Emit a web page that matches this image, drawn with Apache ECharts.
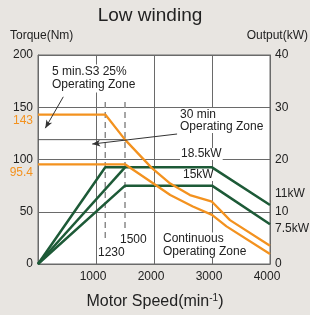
<!DOCTYPE html>
<html>
<head>
<meta charset="utf-8">
<script src="https://cdn.jsdelivr.net/npm/echarts@6/dist/echarts.min.js"></script>
<style>
html,body{margin:0;padding:0;background:#e8e5e1;}
#c{width:310px;height:315px;}
</style>
</head>
<body>
<div id="c"></div>
<script>
// ---- data ----
var xTicks = [0, 1000, 2000, 3000, 4000];
var torqueTicks = [0, 50, 100, 150, 200];
var outputTicks = [0, 10, 20, 30, 40];

// Torque curves (Nm) vs speed (min^-1)
var s3TorqueSpeed  = [0, 1160, 1500, 1960, 2280, 2620, 3000, 3310, 4000];
var s3Torque       = [143, 143, 119, 92, 77, 66, 59.6, 42, 17.5];
var contTorqueSpeed = [0, 1500, 1990, 2280, 2670, 3000, 3250, 4000];
var contTorque      = [95.4, 95.4, 77, 66, 55, 47, 36, 9.5];

// Output curves (kW) vs speed
var out185Speed = [0, 1160, 3000, 4000];
var out185      = [0, 18.5, 18.5, 11.3];
var out185bSpeed = [0, 1500];
var out185b      = [0, 18.5];
var out15Speed  = [0, 1500, 3000, 4000];
var out15       = [0, 15, 15, 7.6];

// reference marks
var refLineSpeed = [0, 1500];
var refLineTorque = [119, 119];
var dash1230 = [[1160, 155], [1160, 21]];
var dash1500 = [[1500, 155], [1500, 32]];
var arrow5min = [[436, 160], [126, 130]];
var arrow30min = [[2398, 124.4], [935, 114.8]];

function zip(a, b) { return a.map(function (v, i) { return [v, b[i]]; }); }

var FONT = '"Liberation Sans", Arial, sans-serif';
var ORANGE = '#f3921f';
var GREEN = '#1d5a37';
var GRID = '#6a6a6a';
var TXT = '#222';

var chart = echarts.init(document.getElementById('c'), null, {renderer: 'canvas'});

function txt(x, y, text, opts) {
  opts = opts || {};
  return {
    type: 'text', x: x, y: y, z: opts.z != null ? opts.z : 100, silent: true,
    style: Object.assign({
      text: text, fill: TXT, font: (opts.size || 12) + 'px ' + FONT,
      align: opts.align || 'left', verticalAlign: opts.va || 'middle',
      lineHeight: opts.lh || 12
    }, opts.extra || {})
  };
}

var option = {
  backgroundColor: '#e8e5e1',
  animation: false,
  textStyle: {fontFamily: FONT},
  grid: {left: 38, right: 40, top: 55, bottom: 51, show: true, backgroundColor: '#ffffff', borderColor: GRID, borderWidth: 1},
  xAxis: {
    type: 'value', min: xTicks[0], max: xTicks[xTicks.length - 1], interval: 1000,
    axisLine: {show: true, lineStyle: {color: GRID}},
    axisTick: {show: false},
    splitLine: {show: true, lineStyle: {color: GRID, width: 1}},
    axisLabel: {color: TXT, fontSize: 12, margin: 7, showMinLabel: false, padding: [0, 6, 0, 0],
      formatter: function (v) { return xTicks.indexOf(v) >= 0 ? String(v) : ''; }}
  },
  yAxis: [{
    type: 'value', min: 0, max: 200, interval: 50, position: 'left',
    axisLine: {show: true, lineStyle: {color: GRID}},
    axisTick: {show: false},
    splitLine: {show: true, lineStyle: {color: GRID, width: 1}},
    axisLabel: {color: TXT, fontSize: 12, margin: 5,
      formatter: function (v) { return torqueTicks.indexOf(v) >= 0 ? String(v) : ''; }}
  }, {
    type: 'value', min: 0, max: 40, interval: 10, position: 'right',
    axisLine: {show: true, lineStyle: {color: GRID}},
    axisTick: {show: false},
    splitLine: {show: false},
    axisLabel: {color: TXT, fontSize: 12, margin: 5,
      formatter: function (v) { return outputTicks.indexOf(v) >= 0 ? String(v) : ''; }}
  }],
  series: [
    {type: 'line', name: 'ref', data: zip(refLineSpeed, refLineTorque), symbol: 'none', silent: true,
      lineStyle: {color: '#555', width: 1}, z: 2},
    {type: 'line', name: 'd1230', data: dash1230, symbol: 'none', silent: true,
      lineStyle: {color: '#8a8a8a', width: 1.5, type: [6, 4]}, z: 2},
    {type: 'line', name: 'd1500', data: dash1500, symbol: 'none', silent: true,
      lineStyle: {color: '#8a8a8a', width: 1.5, type: [6, 4]}, z: 2,
      markLine: {silent: true, symbol: ['none', 'arrow'], symbolSize: [5, 8], label: {show: false},
        lineStyle: {color: '#333', width: 1, type: 'solid'},
        data: [
          [{coord: arrow5min[0]}, {coord: arrow5min[1]}],
          [{coord: arrow30min[0]}, {coord: arrow30min[1]}]
        ]}},
    {type: 'line', name: '18.5kW', yAxisIndex: 1, data: zip(out185Speed, out185), symbol: 'none',
      lineStyle: {color: GREEN, width: 2.5}, z: 3},
    {type: 'line', name: '18.5kW b', yAxisIndex: 1, data: zip(out185bSpeed, out185b), symbol: 'none',
      lineStyle: {color: GREEN, width: 2.5}, z: 3},
    {type: 'line', name: '15kW', yAxisIndex: 1, data: zip(out15Speed, out15), symbol: 'none',
      lineStyle: {color: GREEN, width: 2.5}, z: 3},
    {type: 'line', name: 'S3 torque', data: zip(s3TorqueSpeed, s3Torque), symbol: 'none',
      lineStyle: {color: ORANGE, width: 2.3}, z: 4},
    {type: 'line', name: 'Cont torque', data: zip(contTorqueSpeed, contTorque), symbol: 'none',
      lineStyle: {color: ORANGE, width: 2.3}, z: 4}
  ],
  graphic: [
    txt(150, 16, 'Low winding', {size: 19, align: 'center'}),
    txt(10, 36, 'Torque(Nm)', {size: 12}),
    txt(308, 36, 'Output(kW)', {size: 12, align: 'right'}),
    txt(33, 121, '143', {align: 'right', extra: {fill: ORANGE}}),
    txt(33, 173, '95.4', {align: 'right', extra: {fill: ORANGE}}),
    txt(275, 194, '11kW'),
    txt(275, 229, '7.5kW'),
    txt(51, 64.5, '5 min.S3 25%\nOperating Zone', {va: 'top', lh: 13, z: 1,
      extra: {backgroundColor: '#fff', padding: [1, 1, 1, 1]}}),
    txt(180, 108, '30 min\nOperating Zone', {va: 'top', lh: 12.5, z: 1,
      extra: {backgroundColor: '#fff', padding: [0, 1, 0, 0]}}),
    txt(180, 154, '18.5kW', {z: 1, extra: {backgroundColor: '#fff', padding: [0, 1, 0, 1]}}),
    txt(182, 175, '15kW', {z: 1, extra: {backgroundColor: '#fff', padding: [0, 1, 0, 1]}}),
    txt(162, 232.5, 'Continuous\nOperating Zone', {va: 'top', lh: 12.7, z: 1,
      extra: {backgroundColor: '#fff', padding: [0, 1, 0, 1]}}),
    txt(98, 253, '1230', {z: 1, extra: {backgroundColor: '#fff'}}),
    txt(120, 240, '1500', {z: 1, extra: {backgroundColor: '#fff'}}),
    {
      type: 'text', x: 155, y: 302, z: 100, silent: true,
      style: {
        text: 'Motor Speed(min{sup|-1})', align: 'center', verticalAlign: 'middle',
        font: '16px ' + FONT, fill: TXT,
        rich: {sup: {fontSize: 10, fontFamily: FONT, fill: TXT, verticalAlign: 'top', lineHeight: 18}}
      }
    }
  ]
};
chart.setOption(option);
</script>
</body>
</html>
